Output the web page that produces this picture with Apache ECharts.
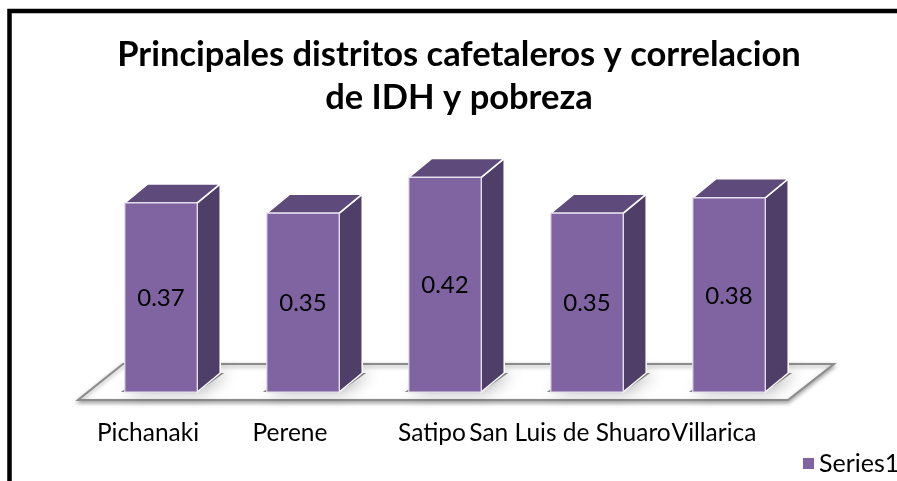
<!DOCTYPE html>
<html>
<head>
<meta charset="utf-8">
<script src="https://cdn.jsdelivr.net/npm/echarts@6/dist/echarts.min.js"></script>
<style>
  html, body { margin: 0; padding: 0; background: #fff; }
  #chart { width: 897px; height: 481px; }
</style>
</head>
<body>
<div id="chart"></div>
<script>
  const categories = ['Pichanaki', 'Perene', 'Satipo', 'San Luis de Shuaro', 'Villarica'];
  const values = [0.37, 0.35, 0.42, 0.35, 0.38];
  const seriesName = 'Series1';
  const titleText = 'Principales distritos cafetaleros y correlacion\nde IDH y pobreza';

  const FONT = 'Lato, "Open Sans", sans-serif';
  const DX = 23, DY = -19; // depth of the bars

  // floor under the bars
  function renderFloor(params, api) {
    const cs = params.coordSys;
    const yb = cs.y + cs.height;
    const yf = yb + 8, yk = yb - 28;
    const xl = cs.x - 12, xr = cs.x + cs.width - 12;
    return {
      type: 'polygon',
      shape: { points: [[xl, yf], [xr, yf], [xr + 46, yk], [xl + 45, yk]] },
      style: {
        fill: '#fff', stroke: '#8c8c8c', lineWidth: 2,
        shadowBlur: 4, shadowColor: 'rgba(0,0,0,0.35)', shadowOffsetY: 2
      }
    };
  }

  function renderBar(params, api) {
    const top = api.coord([api.value(0), api.value(1)]);
    const base = api.coord([api.value(0), 0]);
    const w = api.size([1, 0])[0] * 0.51;
    const x0 = top[0] - w / 2, x1 = top[0] + w / 2;
    const yt = top[1], yb = base[1];
    return {
      type: 'group',
      children: [
        {
          type: 'polygon',
          shape: { points: [[x0 - 4, yb], [x1, yb], [x1 + DX + 4, yb + DY], [x0 + DX, yb + DY]] },
          style: {
            fill: 'rgba(0,0,0,0.45)', shadowBlur: 16,
            shadowColor: 'rgba(0,0,0,0.7)', shadowOffsetX: 4, shadowOffsetY: 0
          }
        },
        {
          type: 'polygon',
          shape: { points: [[x1, yt], [x1 + DX, yt + DY], [x1 + DX, yb + DY], [x1, yb]] },
          style: { fill: '#4f3e68', stroke: '#fff', lineWidth: 1.5 }
        },
        {
          type: 'polygon',
          shape: { points: [[x0, yt], [x1, yt], [x1 + DX, yt + DY], [x0 + DX, yt + DY]] },
          style: { fill: '#5f4b7b', stroke: '#fff', lineWidth: 1.5 }
        },
        {
          type: 'rect',
          shape: { x: x0, y: yt, width: w, height: yb - yt },
          style: { fill: '#8064a2', stroke: '#e6e0ee', lineWidth: 1.2 }
        },
        {
          type: 'text',
          x: top[0], y: (yt + yb) / 2 + 1,
          style: {
            text: String(api.value(1)), fill: '#000',
            font: '24px ' + FONT, align: 'center', verticalAlign: 'middle'
          }
        }
      ]
    };
  }

  // labels sit a little left of the bars, the last two pushed together
  const labelStyle = (pad) => ({ fontFamily: FONT, fontSize: 24.5, color: '#000', padding: [0, pad, 0, 0] });

  const chart = echarts.init(document.getElementById('chart'));
  chart.setOption({
    animation: false,
    backgroundColor: '#fff',
    title: {
      text: titleText,
      left: 454, top: 28, textAlign: 'center',
      textStyle: { fontFamily: FONT, fontWeight: 'bold', fontSize: 34.5, lineHeight: 43, color: '#000' }
    },
    legend: {
      data: [seriesName],
      left: 803, top: 451, padding: 0,
      icon: 'rect', itemWidth: 11, itemHeight: 11,
      textStyle: { fontFamily: FONT, fontSize: 25, color: '#000' }
    },
    grid: { left: 90, right: 97, top: 136.5, bottom: 89 },
    xAxis: {
      type: 'category',
      data: categories,
      axisLine: { show: false },
      axisTick: { show: false },
      axisLabel: {
        interval: 0, margin: 29,
        formatter: (v, i) => (i === 3 ? '{b|' + v + '}' : i === 4 ? '{c|' + v + '}' : '{a|' + v + '}'),
        rich: { a: labelStyle(26), b: labelStyle(34), c: labelStyle(30) }
      }
    },
    yAxis: { type: 'value', min: 0, max: 0.5, show: false },
    graphic: [{
      type: 'rect', z: 100,
      shape: { x: 9.5, y: 11, width: 1200, height: 1000 },
      style: { fill: 'none', stroke: '#000', lineWidth: 4.5 }
    }],
    series: [
      {
        type: 'custom', z: 1, silent: true,
        renderItem: renderFloor,
        data: [[0, 0]]
      },
      {
        name: seriesName, type: 'custom', z: 2,
        itemStyle: { color: '#8064a2' },
        renderItem: renderBar,
        encode: { x: 0, y: 1 },
        data: values.map((v, i) => [i, v])
      }
    ]
  });
</script>
</body>
</html>
